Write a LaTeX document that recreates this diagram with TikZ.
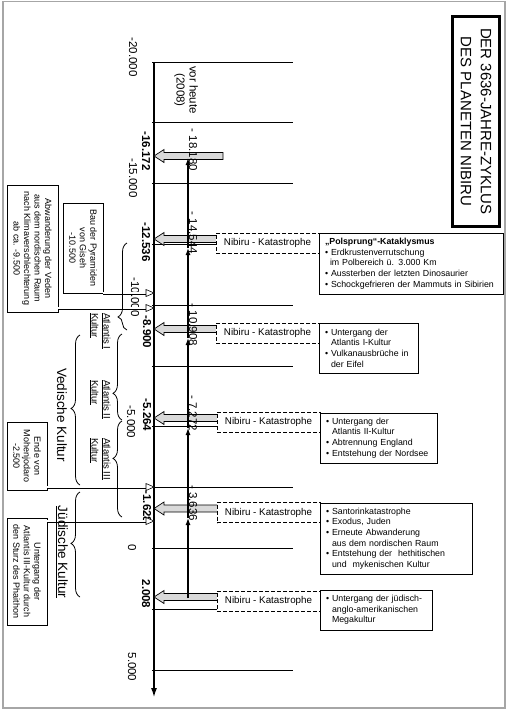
\documentclass[tikz,border=0pt]{standalone}
\usepackage{fontspec}
\setmainfont{Liberation Sans}
\usetikzlibrary{arrows.meta,decorations.pathreplacing,calc}
\newcommand{\garrowdraw}[2]{\filldraw[garrowst] ($(#1)+(0,-3.5)$) -- ($(#2)+(10,-3.5)$) -- ($(#2)+(10,-6.5)$) -- (#2) -- ($(#2)+(10,6.5)$) -- ($(#2)+(10,3.5)$) -- ($(#1)+(0,3.5)$) -- cycle;}
\newcommand{\dblarrowdraw}[2]{\draw[dblshaft] (#1) -- ($(#2)+(-7,0)$); \draw[line width=0.6pt, fill=white] (#2) -- ++(-8,-3.5) -- ++(0,7) -- cycle;}
\begin{document}
\begin{tikzpicture}[x=1pt,y=-1pt,
 every node/.style={inner sep=0pt, outer sep=0pt},
 ticks/.style={line width=1pt},
 axisline/.style={line width=1.2pt, -{Latex[length=9pt,width=6pt]}},
 numlbl/.style={rotate=-90, font=\fontsize{11.5}{13}\selectfont},
 numlblb/.style={rotate=-90, font=\fontsize{11.5}{13}\selectfont\bfseries},
 nibbox/.style={draw, line width=1pt, dash pattern=on 4pt off 2pt, fill=white, font=\fontsize{9.8}{11}\selectfont, minimum width=103pt, minimum height=20pt},
 infobox/.style={draw, line width=0.9pt, fill=white, font=\fontsize{8.8}{10.7}\selectfont, align=left, inner xsep=5pt, anchor=north west},
 leftbox/.style={draw, line width=0.8pt, fill=white, rotate=-90, align=center, font=\fontsize{9}{10.5}\selectfont},
 garrowst/.style={fill=gray!30, draw=black, line width=0.7pt},
 dblshaft/.style={line width=0.6pt, double=white, double distance=1.8pt},
 vhline/.style={line width=1.2pt, -{Latex[length=7pt,width=5pt]}},
 kbrace/.style={decorate, decoration={brace, amplitude=9pt, aspect=#1}, line width=0.8pt},
 culture/.style={rotate=-90, font=\fontsize{13.5}{15}\selectfont},
 atl/.style={rotate=-90, anchor=west, align=left, font=\fontsize{9.5}{12}\selectfont},
]
\useasboundingbox (0,0) rectangle (506,710);
\draw[gray!70, line width=1.2pt] (3,1.5) rectangle (505,708);

% tick lines every 2500 years
\foreach \k in {0,...,10} { \draw[ticks] (152,{62+60.8*\k}) -- (293,{62+60.8*\k}); }

% main axis
\coordinate (axtop) at (154,62);
\coordinate (axbot) at (154,697);
\draw[axisline] (axtop) -- (axbot);

% title
\node[draw, line width=3pt, rotate=-90, minimum width=210pt, minimum height=47pt, align=center, font=\fontsize{15}{20}\selectfont] (title) at (476,121.5) {DER 3636-JAHRE-ZYKLUS\\DES PLANETEN NIBIRU};

% Nibiru boxes
\node[nibbox] (nib1) at (267.5,243) {Nibiru - Katastrophe};
\node[nibbox] (nib2) at (267.5,333) {Nibiru - Katastrophe};
\node[nibbox] (nib3) at (268.5,422) {Nibiru - Katastrophe};
\node[nibbox] (nib4) at (268.5,512.5) {Nibiru - Katastrophe};
\node[nibbox] (nib5) at (268.5,601) {Nibiru - Katastrophe};

% grey arrows
\coordinate (g0a) at (223,156); \coordinate (g0b) at (154,156);
\garrowdraw{g0a}{g0b}
\foreach \i in {1,...,5} {
  \coordinate (ga\i) at ($(nib\i.west)+(2,-4)$);
  \coordinate (gb\i) at (ga\i -| axtop);
  \garrowdraw{ga\i}{gb\i}
}
% redraw boxes above arrow tails
\node[nibbox] at (nib1) {Nibiru - Katastrophe};
\node[nibbox] at (nib2) {Nibiru - Katastrophe};
\node[nibbox] at (nib3) {Nibiru - Katastrophe};
\node[nibbox] at (nib4) {Nibiru - Katastrophe};
\node[nibbox] at (nib5) {Nibiru - Katastrophe};

% info boxes
\node[infobox, minimum width=184pt, minimum height=61pt, text width=172pt] (info1) at (319,233) {{\bfseries „Polsprung“-Kataklysmus}\\
\textbullet\ Erdkrustenverrutschung\\
\hspace*{5pt}im Polbereich ü. 3.000 Km\\
\textbullet\ Aussterben der letzten Dinosaurier\\
\textbullet\ Schockgefrieren der Mammuts in Sibirien};
\node[infobox, minimum width=99pt, minimum height=50pt, text width=87pt] (info2) at (319,323) {\textbullet\ Untergang der\\
\hspace*{6pt}Atlantis I-Kultur\\
\textbullet\ Vulkanausbrüche in\\
\hspace*{6pt}der Eifel};
\node[infobox, minimum width=117pt, minimum height=50pt, text width=105pt] (info3) at (320,413) {\textbullet\ Untergang der\\
\hspace*{6pt}Atlantis II-Kultur\\
\textbullet\ Abtrennung England\\
\textbullet\ Entstehung der Nordsee};
\node[infobox, minimum width=152pt, minimum height=71pt, text width=140pt] (info4) at (320,503) {\textbullet\ Santorinkatastrophe\\
\textbullet\ Exodus, Juden\\
\textbullet\ Erneute Abwanderung\\
\hspace*{6pt}aus dem nordischen Raum\\
\textbullet\ Entstehung der\ \ hethitischen\\
\hspace*{6pt}und\ \ mykenischen Kultur};
\node[infobox, minimum width=112pt, minimum height=40pt, text width=100pt] (info5) at (320,590) {\textbullet\ Untergang der jüdisch-\\
\hspace*{6pt}anglo-amerikanischen\\
\hspace*{6pt}Megakultur};

% vor heute line
\coordinate (vh0) at (188,598);
\coordinate (vh1) at (188,518);
\coordinate (vh2) at (188,428);
\coordinate (vh3) at (188,338);
\coordinate (vh4) at (188,248);
\coordinate (vh5) at (188,158);
\draw[vhline] (vh0) -- (vh1);
\draw[vhline] (vh1) -- (vh2);
\draw[vhline] (vh2) -- (vh3);
\draw[vhline] (vh3) -- (vh4);
\draw[vhline] (vh4) -- (vh5);

% labels
\node[numlbl, align=center] (vorheute) at (186,90) {vor heute\\(2008)};
\node[numlbl] (v1) at (193,150) {- 18.180};
\node[numlbl] (v2) at (193,233) {- 14.544};
\node[numlbl] (v3) at (193,325) {- 10.908};
\node[numlbl] (v4) at (193,413) {- 7.272};
\node[numlbl] (v5) at (193,503) {- 3.636};

\node[numlbl] (l20) at (133,57) {-20.000};
\node[numlbl] (l15) at (133,178) {-15.000};
\node[numlbl] (l10) at (135,297) {-10.000};
\node[numlbl] (l5) at (131,422) {-5.000};
\node[numlbl] (l0) at (132,548) {0};
\node[numlbl] (lp5) at (132,667) {5.000};

\node[numlblb] (b1) at (146,151) {-16.172};
\node[numlblb] (b2) at (146,242) {-12.536};
\node[numlblb] (b3) at (147,332) {-8.900};
\node[numlblb] (b4) at (147,415) {-5.264};
\node[numlblb] (b5) at (147,507) {-1.628};
\node[numlblb] (b6) at (146,594) {2.008};

% left boxes
\node[leftbox, minimum width=127pt, minimum height=51pt] (abw) at (32.5,248.5) {Abwanderung der Veden\\aus dem nordischen Raum\\nach Klimaverschlechterung\\ab ca. -9.500};
\node[leftbox, minimum width=90pt, minimum height=40pt] (bau) at (83,248) {Bau der Pyramiden\\von Giseh\\-10.500};
\node[leftbox, minimum width=68pt, minimum height=40pt] (ende) at (27,456) {Ende von\\Mohenjodaro\\-2.500};
\node[leftbox, minimum width=107pt, minimum height=40pt] (unt) at (27,571.5) {Untergang der\\Atlantis III-Kultur durch\\den Sturz des Phaithon};

% double arrows to axis
\coordinate (da1) at (bau.north east);
\coordinate (db1) at (da1 -| axtop);
\dblarrowdraw{da1}{db1}
\coordinate (da2) at ($(abw.north east)+(0,-4)$);
\coordinate (db2) at (da2 -| axtop);
\dblarrowdraw{da2}{db2}
\coordinate (da3) at ($(ende.north east)+(0,-3)$);
\coordinate (db3) at (da3 -| axtop);
\dblarrowdraw{da3}{db3}
\coordinate (da4) at ($(unt.north west)+(0,3)$);
\coordinate (db4) at (da4 -| axtop);
\dblarrowdraw{da4}{db4}

% braces
\draw[kbrace=0.15] (127,330) -- (127,243);
\draw[kbrace=0.31] (122,420) -- (122,334);
\draw[kbrace=0.61] (122,517) -- (122,421);
\draw[kbrace=0.51] (80,485) -- (80,335);
\draw[kbrace=0.51] (80,597) -- (80,492);

\node[atl] (atl1) at (100,313) {\underline{Atlantis I}\\\underline{Kultur}};
\node[atl] (atl2) at (100,380) {\underline{Atlantis II}\\\underline{Kultur}};
\node[atl] (atl3) at (100,438) {\underline{Atlantis III}\\\underline{Kultur}};
\node[culture] (ved) at (62,415) {Vedische Kultur};
\node[culture] (jud) at (62,552) {\underline{Jüdische Kultur}};
\end{tikzpicture}
\end{document}
